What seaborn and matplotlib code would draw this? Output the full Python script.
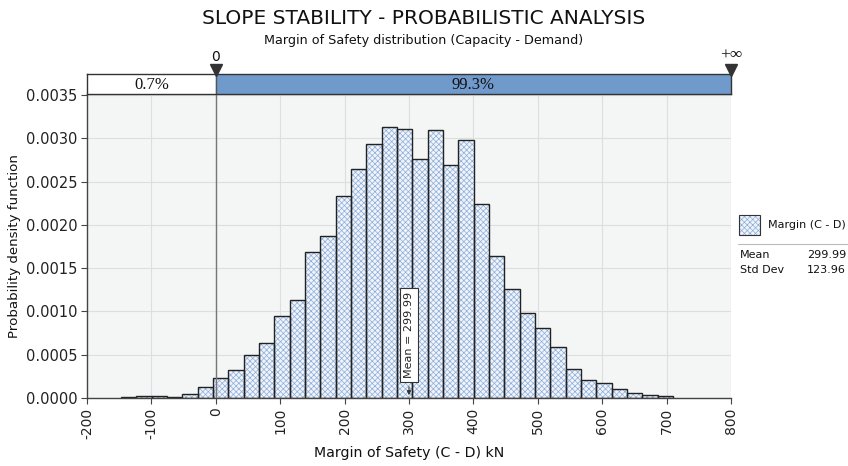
import numpy as np
import pandas as pd
import matplotlib
matplotlib.use("Agg")
import matplotlib.pyplot as plt
from matplotlib.patches import Rectangle
from matplotlib.lines import Line2D
import seaborn as sns

# Histogram of the margin of safety (C - D), kN
bin_start = -147.0
bin_width = 23.8
density = [0.000008, 0.000027, 0.000027, 0.000015, 0.000050, 0.000123,
           0.000227, 0.000323, 0.000500, 0.000639, 0.000951, 0.001128,
           0.001683, 0.001875, 0.002337, 0.002649, 0.002938, 0.003127,
           0.003104, 0.002757, 0.003092, 0.002695, 0.002977, 0.002241,
           0.001644, 0.001256, 0.000978, 0.000805, 0.000586, 0.000335,
           0.000208, 0.000177, 0.000104, 0.000062, 0.000031, 0.000020]
mean_value = 299.99
std_value = 123.96
prob_fail = 0.7
prob_safe = 99.3
x_ticks = [-200, -100, 0, 100, 200, 300, 400, 500, 600, 700, 800]
y_ticks = [0.0, 0.0005, 0.0010, 0.0015, 0.0020, 0.0025, 0.0030, 0.0035]

n_bins = len(density)
bin_end = bin_start + bin_width * n_bins
centers = bin_start + bin_width * (np.arange(n_bins) + 0.5)
df = pd.DataFrame({"margin": centers, "pdf": density})

sns.set_style("white")
plt.rcParams["font.family"] = ["DejaVu Sans"]
plt.rcParams["hatch.linewidth"] = 0.5

HATCH_FACE = "#f0f4fa"
HATCH_LINE = "#8cadd9"

fig = plt.figure(figsize=(8.48, 4.66), dpi=100)
ax = fig.add_axes([0.1026, 0.1459, 0.7594, 0.6502])
band = fig.add_axes([0.1026, 0.798, 0.7594, 0.043], sharex=ax)

ax.set_facecolor("#f4f6f6")

hist_kw = dict(data=df, x="margin", weights="pdf", binwidth=bin_width,
               binrange=(bin_start, bin_end), stat="count", ax=ax)
# hatched fill, then dark outlines on top
sns.histplot(**hist_kw, color=HATCH_FACE, edgecolor=HATCH_LINE, linewidth=0,
             hatch="xxxxxx", alpha=1.0)
sns.histplot(**hist_kw, fill=False, color="#222222", edgecolor="#222222",
             linewidth=1.0)

ax.set_xlim(-200, 800)
ax.set_ylim(0, 0.0035)
ax.set_xticks(x_ticks)
ax.set_xticklabels([str(v) for v in x_ticks], rotation=90, fontsize=10,
                   color="#222222")
ax.set_yticks(y_ticks)
ax.set_yticklabels([f"{v:.4f}" for v in y_ticks], fontsize=10.5,
                   color="#222222")
ax.grid(True, color="#dcdedf", linewidth=0.8)
ax.set_axisbelow(True)
for side in ("top", "right"):
    ax.spines[side].set_visible(False)
for side in ("left", "bottom"):
    ax.spines[side].set_color("#444444")
    ax.spines[side].set_linewidth(1.0)
ax.tick_params(axis="both", direction="out", length=4, width=0.8,
               color="#444444", bottom=True, left=True, pad=3)
ax.set_xlabel("Margin of Safety (C - D) kN", fontsize=10.2, labelpad=5,
              color="#111111")
ax.set_ylabel("Probability density function", fontsize=9.6, labelpad=3,
              color="#111111")

# zero line
ax.axvline(0, color="#777777", linewidth=1.0, zorder=5)

# mean label
ax.annotate("", xy=(mean_value, 0.0), xytext=(mean_value, 0.00016),
            arrowprops=dict(arrowstyle="-|>", color="#333333", lw=0.8,
                            mutation_scale=6), zorder=6)
ax.text(mean_value, 0.00073, f"Mean = {mean_value:.2f}", rotation=90,
        ha="center", va="center", fontsize=8, color="#222222", zorder=7,
        bbox=dict(boxstyle="square,pad=0.35", facecolor="white",
                  edgecolor="#333333", linewidth=0.8))

# probability band above the plot
band.axvspan(-200, 0, color="white", zorder=1)
band.axvspan(0, 800, color="#7099cc", zorder=1)
band.axvline(0, color="#555555", linewidth=1.0, zorder=2)
band.set_ylim(0, 1)
band.set_yticks([])
band.tick_params(axis="x", bottom=False, labelbottom=False)
for side in band.spines.values():
    side.set_color("#333333")
    side.set_linewidth(1.0)
band.text(-100, 0.45, f"{prob_fail}%", ha="center", va="center",
          fontsize=12, family="Liberation Serif", color="#111111")
band.text(400, 0.45, f"{prob_safe}%", ha="center", va="center",
          fontsize=12, family="Liberation Serif", color="#111111")
band.plot([0, 800], [1.2, 1.2], linestyle="none", marker="v",
          markersize=8, color="#333333", clip_on=False, zorder=5)
band.text(0, 1.5, "0", ha="center", va="bottom", fontsize=10,
          color="#111111")
band.text(800, 1.5, "+\u221e", ha="center", va="bottom", fontsize=12.5,
          family="Liberation Serif", color="#111111")

# titles
fig.text(0.5, 0.961, "SLOPE STABILITY - PROBABILISTIC ANALYSIS",
         ha="center", va="center", fontsize=14.5, color="#111111")
fig.text(0.5, 0.914, "Margin of Safety distribution (Capacity - Demand)",
         ha="center", va="center", fontsize=9.2, color="#111111")

# legend with summary statistics
fig.patches.append(Rectangle((0.8715, 0.4957), 0.0245, 0.043,
                             transform=fig.transFigure, facecolor=HATCH_FACE,
                             edgecolor=HATCH_LINE, hatch="xxxxxx",
                             linewidth=0))
fig.patches.append(Rectangle((0.8715, 0.4957), 0.0245, 0.043,
                             transform=fig.transFigure, fill=False,
                             edgecolor="#333333", linewidth=0.8))
fig.text(0.9057, 0.517, "Margin (C - D)", ha="left", va="center",
         fontsize=8, color="#111111")
fig.lines.append(Line2D([0.870, 1.0], [0.476, 0.476],
                        transform=fig.transFigure, color="#bbbbbb",
                        linewidth=0.8))
fig.text(0.8726, 0.453, "Mean", ha="left", va="center", fontsize=8,
         color="#111111")
fig.text(0.9976, 0.453, f"{mean_value:.2f}", ha="right", va="center",
         fontsize=8, color="#111111")
fig.text(0.8726, 0.421, "Std Dev", ha="left", va="center", fontsize=8,
         color="#111111")
fig.text(0.9976, 0.421, f"{std_value:.2f}", ha="right", va="center",
         fontsize=8, color="#111111")

fig.savefig("out.png", dpi=100)
